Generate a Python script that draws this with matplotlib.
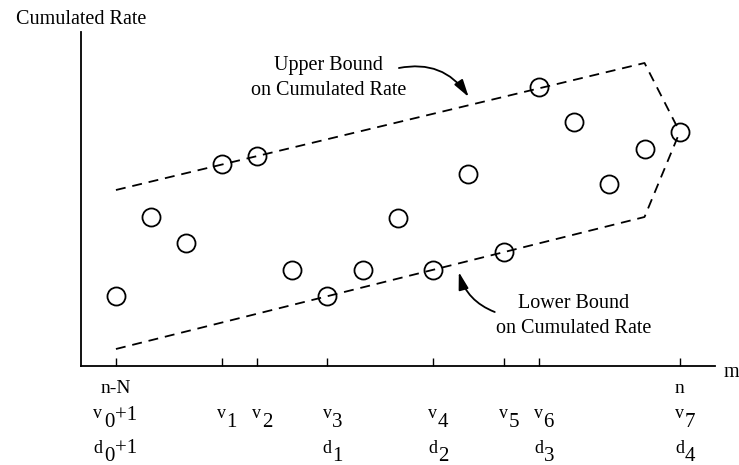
import matplotlib
matplotlib.use('Agg')
import matplotlib.pyplot as plt
from matplotlib.transforms import ScaledTranslation

plt.rcParams['font.family'] = ['Liberation Serif', 'DejaVu Serif']

# ---- data ----
m_index = list(range(17))
cum_rate = [70, 149, 123, 202, 210, 96, 70, 96, 148, 96, 192, 114, 279, 244, 182, 217, 234]

bound_m = [0, 15, 16]
upper_bound = [176, 303, 234]
lower_bound = [17, 149, 234]

tick_m = [0, 3, 4, 6, 9, 11, 12, 16]

row1_m = [0, 16]
row1_labels = ['n-N', 'n']
row2_m = [0, 3, 4, 6, 9, 11, 12, 16]
row2_sub = ['0', '1', '2', '3', '4', '5', '6', '7']
row3_m = [0, 6, 9, 12, 16]
row3_sub = ['0', '1', '2', '3', '4']

upper_text = ['Upper Bound', 'on Cumulated Rate']
lower_text = ['Lower Bound', 'on Cumulated Rate']

# ---- figure ----
W, H = 739, 465
fig = plt.figure(figsize=(W / 100, H / 100), dpi=100)
ax = fig.add_axes([80.7 / W, 99 / H, 634.3 / W, 334 / H])
ax.set_xlim(-1, 17)
ax.set_ylim(0, 334)

for s in ['top', 'right']:
    ax.spines[s].set_visible(False)
for s in ['left', 'bottom']:
    ax.spines[s].set_linewidth(1.3)
    ax.spines[s].set_color('black')

ax.set_yticks([])
ax.set_xticks(tick_m)
ax.set_xticklabels([])
ax.tick_params(axis='x', direction='in', length=6, width=1.0, color='black')

dash = (0, (5.5, 3.8))
ax.plot(bound_m, upper_bound, color='black', lw=1.3, linestyle=dash, zorder=2)
ax.plot(bound_m, lower_bound, color='black', lw=1.3, linestyle=dash, zorder=2)

ax.plot(m_index, cum_rate, linestyle='none', marker='o', markersize=13,
        markerfacecolor='none', markeredgecolor='black', markeredgewidth=1.3, zorder=3)

fs = 14.5
fs_letter = 13
fs_digit = 15
xtr = ax.get_xaxis_transform()


def px(dx):
    return xtr + ScaledTranslation(dx / 100, 0, fig.dpi_scale_trans)


def yfrac(pix):
    return (366 - pix) / 334


def sub_label(x, letter, sub, base_letter, base_sub, base_plus):
    if sub == '0':
        bnd = -12.5
        ax.text(x, yfrac(base_letter), letter, transform=px(bnd - 1.5), ha='right',
                va='baseline', fontsize=fs_letter)
        ax.text(x, yfrac(base_sub), sub, transform=px(bnd + 0.5), ha='left',
                va='baseline', fontsize=fs_digit)
        ax.text(x, yfrac(base_plus), '+1', transform=px(bnd + 0.5 + 11.5), ha='left',
                va='baseline', fontsize=fs_digit)
    else:
        bnd = 4.5
        ax.text(x, yfrac(base_letter), letter, transform=px(bnd - 0.3), ha='right',
                va='baseline', fontsize=fs_letter)
        ax.text(x, yfrac(base_sub), sub, transform=px(bnd + 0.3), ha='left',
                va='baseline', fontsize=fs_digit)


for x, lab in zip(row1_m, row1_labels):
    ax.text(x, yfrac(393), lab, transform=xtr, ha='center', va='baseline', fontsize=fs - 0.5)
for x, s in zip(row2_m, row2_sub):
    sub_label(x, 'v', s, 418, 427, 420)
for x, s in zip(row3_m, row3_sub):
    sub_label(x, 'd', s, 453, 461, 453)

ax.text(17.25, -11, 'm', ha='left', va='baseline', fontsize=fs, clip_on=False)
ax.text(-1, 342, 'Cumulated Rate', ha='center', va='baseline', fontsize=fs, clip_on=False)

ax.text(6.04, 296, upper_text[0], ha='center', va='baseline', fontsize=fs)
ax.text(6.04, 271, upper_text[1], ha='center', va='baseline', fontsize=fs)
ax.text(12.99, 58, lower_text[0], ha='center', va='baseline', fontsize=fs)
ax.text(12.99, 33, lower_text[1], ha='center', va='baseline', fontsize=fs)

astyle = '-|>,head_length=0.7,head_width=0.2'
ax.annotate('', xy=(10.01, 269), xytext=(8.03, 298),
            arrowprops=dict(arrowstyle=astyle, connectionstyle='arc3,rad=-0.33',
                            color='black', lw=1.3, mutation_scale=15, shrinkA=0, shrinkB=0))
ax.annotate('', xy=(9.73, 94), xytext=(10.75, 54),
            arrowprops=dict(arrowstyle=astyle, connectionstyle='arc3,rad=-0.25',
                            color='black', lw=1.3, mutation_scale=15, shrinkA=0, shrinkB=0))

fig.savefig('out.png', dpi=100)
